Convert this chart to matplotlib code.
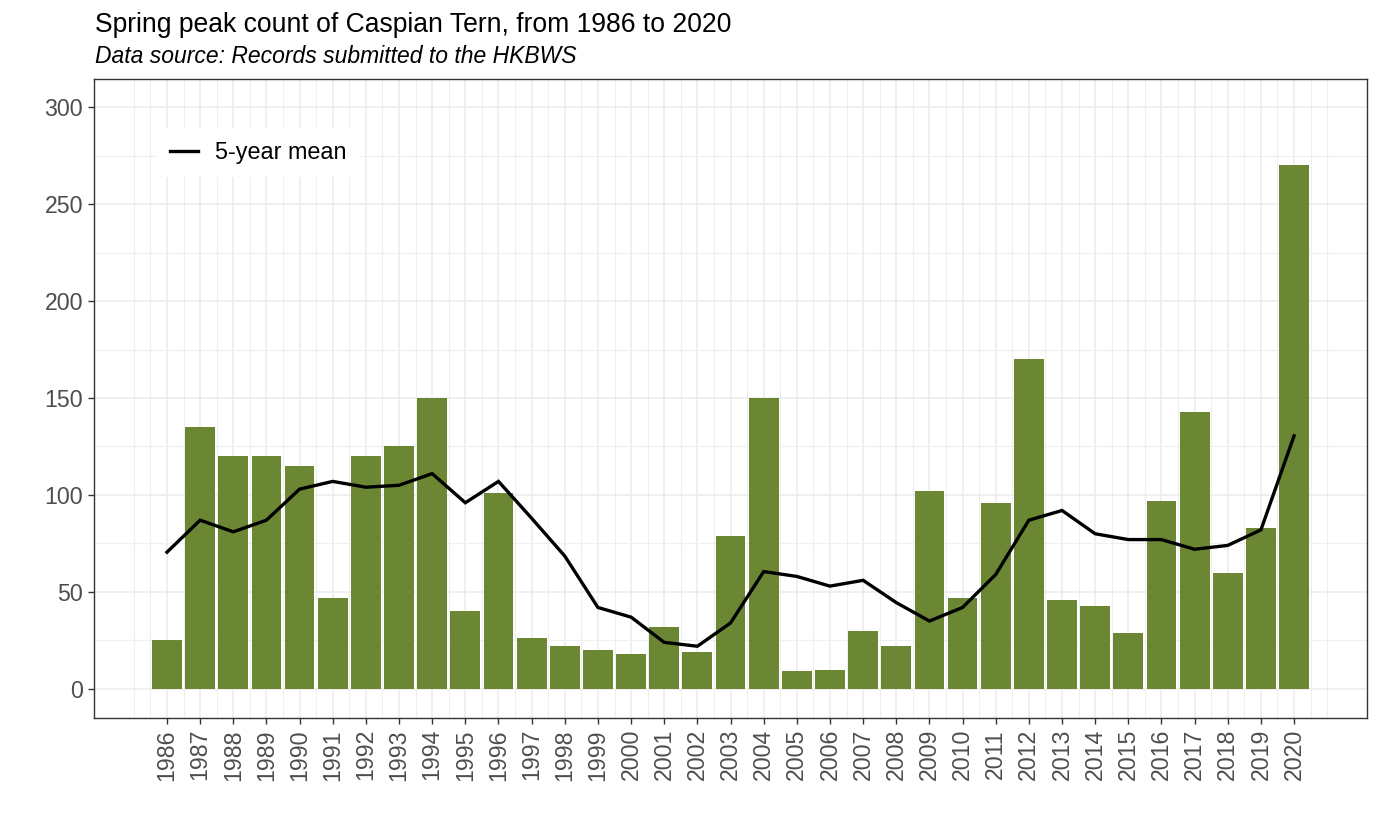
import numpy as np
import matplotlib
matplotlib.use("Agg")
import matplotlib.pyplot as plt
from matplotlib.ticker import FixedLocator

years = list(range(1986, 2021))
counts = [25, 135, 120, 120, 115, 47, 120, 125, 150, 40,
          101, 26, 22, 20, 18, 32, 19, 79, 150, 9,
          10, 30, 22, 102, 47, 96, 170, 46, 43, 29,
          97, 143, 60, 83, 270]
mean5 = [70.5, 87, 81, 87, 103, 107, 104, 105, 111, 96,
         107, 88, 68.5, 42, 37, 24, 22, 34, 60.5, 58,
         53, 56, 44.5, 35, 42, 59, 87, 92, 80, 77,
         77, 72, 74, 82, 130.5]

title = "Spring peak count of Caspian Tern, from 1986 to 2020"
subtitle = "Data source: Records submitted to the HKBWS"
legend_label = "5-year mean"

plt.rcParams['font.family'] = ['Liberation Sans', 'DejaVu Sans']

fig = plt.figure(figsize=(13.79, 8.27), dpi=100)
ax = fig.add_axes([0.0682, 0.1318, 0.9231, 0.7727])

bar_color = '#6B8733'
ax.bar(years, counts, width=0.9, color=bar_color, zorder=2)
ax.plot(years, mean5, color='black', lw=2.4, zorder=3, label=legend_label,
        solid_joinstyle='miter')

ax.set_xlim(1983.8, 2022.2)
ax.set_ylim(-15, 314.5)

ax.xaxis.set_major_locator(FixedLocator(years))
ax.set_xticklabels([str(y) for y in years], rotation=90)
ax.xaxis.set_minor_locator(FixedLocator(list(np.arange(1985, 2021.01, 0.5))))
ax.yaxis.set_major_locator(FixedLocator([0, 50, 100, 150, 200, 250, 300]))
ax.yaxis.set_minor_locator(FixedLocator([25, 75, 125, 175, 225, 275]))

ax.grid(which='major', color='#EBEBEB', lw=1.1, zorder=0)
ax.grid(which='minor', color='#EFEFEF', lw=0.8, zorder=0)
ax.set_axisbelow(True)

ax.tick_params(axis='both', which='major', labelsize=16.7, labelcolor='#4D4D4D',
               color='#333333', length=4, width=1)
ax.tick_params(axis='x', which='major', pad=4)
ax.tick_params(axis='y', which='major', pad=4)
ax.tick_params(which='minor', length=0)

for s in ax.spines.values():
    s.set_color('#333333')
    s.set_linewidth(1.0)

leg = ax.legend(loc='upper left', bbox_to_anchor=(0.0495, 0.923), borderaxespad=0,
                frameon=True, fancybox=False, facecolor='white', edgecolor='none',
                framealpha=1, fontsize=16.8, handlelength=1.2, handletextpad=0.75,
                borderpad=0.55)

fig.text(0.0689, 0.9613, title, fontsize=19.1, color='black', va='baseline', ha='left')
fig.text(0.0689, 0.9234, subtitle, fontsize=16.5, style='italic', color='black',
         va='baseline', ha='left')

fig.savefig('out.png', dpi=100, facecolor='white')
